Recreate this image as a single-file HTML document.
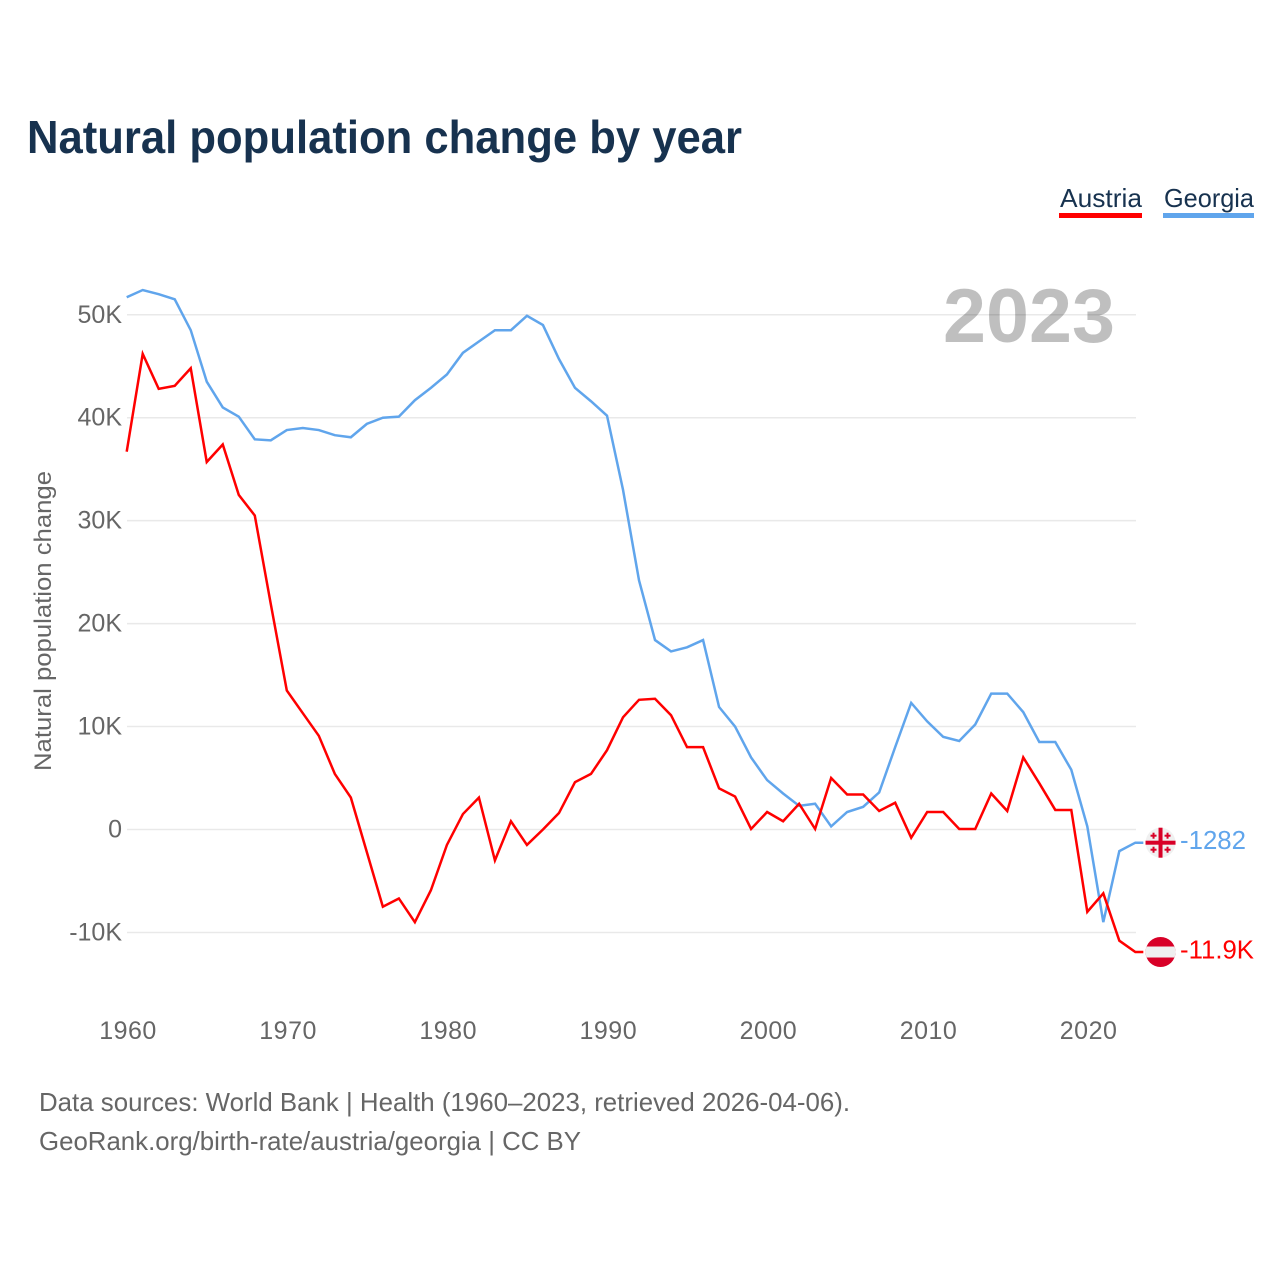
<!DOCTYPE html>
<html lang="en">
<head>
<meta charset="utf-8">
<title>Natural population change by year</title>
<style>
html,body{margin:0;padding:0;background:#fff;}
svg{display:block;}
text{font-family:"Liberation Sans",sans-serif;}
</style>
</head>
<body>
<svg id="chart" xmlns="http://www.w3.org/2000/svg" width="1280" height="1280" viewBox="0 0 1280 1280">
  <rect x="0" y="0" width="1280" height="1280" fill="#ffffff"/>
  <text x="27" y="153" font-size="46" font-weight="700" fill="#17324f" textLength="715" lengthAdjust="spacingAndGlyphs">Natural population change by year</text>
  <g>
    <g>
      <text x="1060" y="207" font-size="26" fill="#17324f" textLength="82" lengthAdjust="spacingAndGlyphs">Austria</text>
      <rect x="1059" y="213" width="83" height="5" fill="#ff0000"/>
    </g>
    <g>
      <text x="1164" y="207" font-size="26" fill="#17324f" textLength="90" lengthAdjust="spacingAndGlyphs">Georgia</text>
      <rect x="1163" y="213" width="91" height="5" fill="#60a5ec"/>
    </g>
  </g>
  <g id="grid"></g>
  <g id="yticks"></g>
  <g id="xticks"></g>
  <text transform="translate(51,771) rotate(-90)" x="0" y="0" font-size="24" fill="#666666" textLength="300" lengthAdjust="spacingAndGlyphs">Natural population change</text>
  <text x="943" y="342" font-size="76" font-weight="700" fill="#000000" fill-opacity="0.25" textLength="172" lengthAdjust="spacingAndGlyphs">2023</text>
  <g id="series"></g>
  <g id="ends"></g>
  <text x="39" y="1111" font-size="26" fill="#666666" textLength="811" lengthAdjust="spacingAndGlyphs">Data sources: World Bank | Health (1960–2023, retrieved 2026-04-06).</text>
  <text x="39" y="1150" font-size="26" fill="#666666" textLength="542" lengthAdjust="spacingAndGlyphs">GeoRank.org/birth-rate/austria/georgia | CC BY</text>
</svg>
<script>
const startYear = 1960;
const yTickValues = [50, 40, 30, 20, 10, 0, -10];
const yTickLabels = ['50K', '40K', '30K', '20K', '10K', '0', '-10K'];
const xTickYears = [1960, 1970, 1980, 1990, 2000, 2010, 2020];
const austriaValues = [36.7,46.2,42.8,43.1,44.8,35.7,37.4,32.5,30.5,21.9,13.5,11.3,9.1,5.4,3.1,-2.2,-7.5,-6.7,-9.0,-5.9,-1.5,1.5,3.1,-3.0,0.8,-1.5,0.0,1.6,4.6,5.4,7.7,10.9,12.6,12.7,11.1,8.0,8.0,4.0,3.2,0.05,1.7,0.8,2.5,0.05,5.0,3.4,3.4,1.8,2.6,-0.8,1.7,1.7,0.05,0.05,3.5,1.8,7.0,4.5,1.9,1.9,-8.0,-6.2,-10.8,-11.9];
const georgiaValues = [51.7,52.4,52.0,51.5,48.5,43.5,41.0,40.1,37.9,37.8,38.8,39.0,38.8,38.3,38.1,39.4,40.0,40.1,41.7,42.9,44.2,46.3,47.4,48.5,48.5,49.9,49.0,45.7,42.9,41.6,40.2,33.0,24.2,18.4,17.3,17.7,18.4,11.9,10.0,7.0,4.8,3.5,2.3,2.5,0.3,1.7,2.2,3.6,8.0,12.3,10.5,9.0,8.6,10.2,13.2,13.2,11.4,8.5,8.5,5.8,0.3,-9.0,-2.1,-1.282];
const endLabels = ['-11.9K', '-1282'];

const NS = 'http://www.w3.org/2000/svg';
function xScale(year) { return 126.7 + (year - 1960) * 16.01; }
function yScale(value) { return 829.5 - value * 10.295; }
function make(tag, attrs, parent) {
  const el = document.createElementNS(NS, tag);
  for (const k in attrs) el.setAttribute(k, attrs[k]);
  parent.appendChild(el);
  return el;
}

const gridGroup = document.getElementById('grid');
const yGroup = document.getElementById('yticks');
const xGroup = document.getElementById('xticks');
const seriesGroup = document.getElementById('series');
const endsGroup = document.getElementById('ends');

yTickValues.forEach(function (v, i) {
  const line = make('line', { x1: 127, x2: 1136, y1: yScale(v), y2: yScale(v), stroke: '#e9e9e9', 'stroke-width': 1.5 }, gridGroup);
  
  
  const label = make('text', { x: 122, y: yScale(v) + 8, 'text-anchor': 'end', 'font-size': 25, fill: '#666666' }, yGroup);
  
  
  label.textContent = yTickLabels[i];
});

xTickYears.forEach(function (yr) {
  const label = make('text', { x: xScale(yr) + 1.3, y: 1039, 'text-anchor': 'middle', 'font-size': 25, 'letter-spacing': 0.5, fill: '#666666' }, xGroup);
  
  
  label.textContent = String(yr);
});

function linePath(values) {
  return values.map(function (v, i) {
    return (i ? 'L' : 'M') + xScale(startYear + i).toFixed(2) + ' ' + yScale(v).toFixed(2);
  }).join(' ') + ' H' + (xScale(startYear + values.length - 1) + 8).toFixed(2);
}

const georgiaLine = make('path', { d: linePath(georgiaValues), fill: 'none', stroke: '#60a5ec', 'stroke-width': 2.5, 'stroke-linejoin': 'miter' }, seriesGroup);


const austriaLine = make('path', { d: linePath(austriaValues), fill: 'none', stroke: '#ff0000', 'stroke-width': 2.5, 'stroke-linejoin': 'miter' }, seriesGroup);



const lastYear = startYear + austriaValues.length - 1;
const flagX = xScale(lastYear) + 25.2;

/* Austria flag */
const atY = yScale(austriaValues[austriaValues.length - 1]);
const atFlag = make('g', {}, endsGroup);


const atClip = make('clipPath', { id: 'clip-at' }, atFlag);
make('circle', { cx: flagX, cy: atY, r: 15 }, atClip);
make('rect', { x: flagX - 15, y: atY - 15, width: 30, height: 30, fill: '#d80027', 'clip-path': 'url(#clip-at)' }, atFlag);
make('rect', { x: flagX - 15, y: atY - 5.5, width: 30, height: 11, fill: '#efefef', 'clip-path': 'url(#clip-at)' }, atFlag);

/* Georgia flag */
const geY = yScale(georgiaValues[georgiaValues.length - 1]);
const geFlag = make('g', {}, endsGroup);


make('circle', { cx: flagX, cy: geY, r: 15, fill: '#f0f0f0' }, geFlag);
make('rect', { x: flagX - 2, y: geY - 15, width: 4, height: 30, fill: '#d80027' }, geFlag);
make('rect', { x: flagX - 15, y: geY - 2, width: 30, height: 4, fill: '#d80027' }, geFlag);
[[-7, -7], [7, -7], [-7, 7], [7, 7]].forEach(function (o) {
  make('rect', { x: flagX + o[0] - 3, y: geY + o[1] - 1, width: 6, height: 2, fill: '#d80027' }, geFlag);
  make('rect', { x: flagX + o[0] - 1, y: geY + o[1] - 3, width: 2, height: 6, fill: '#d80027' }, geFlag);
});

const atValue = make('text', { x: 1180, y: atY + 6.5, 'font-size': 26, fill: '#ff0000', textLength: 74, lengthAdjust: 'spacingAndGlyphs' }, endsGroup);


atValue.textContent = endLabels[0];
const geValue = make('text', { x: 1180, y: geY + 6.5, 'font-size': 26, fill: '#60a5ec', textLength: 66, lengthAdjust: 'spacingAndGlyphs' }, endsGroup);


geValue.textContent = endLabels[1];
</script>
</body>
</html>
